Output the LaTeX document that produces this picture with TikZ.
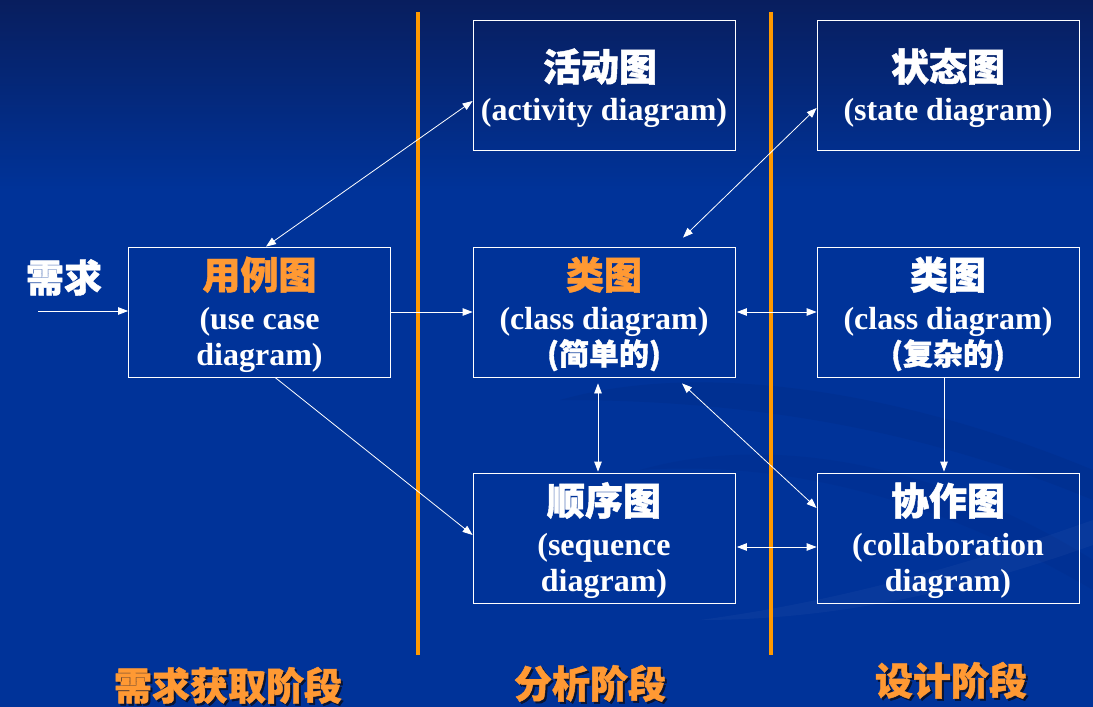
\documentclass[tikz,border=0pt]{standalone}
\usepackage{fontspec}
\setmainfont{Liberation Serif}
\newfontfamily\cjkfont{Noto Sans CJK SC}[BoldFeatures={FakeBold=1.2}]
\usetikzlibrary{arrows.meta,calc}

\definecolor{bgtop}{RGB}{8,30,94}
\definecolor{bgmain}{RGB}{0,51,153}
\definecolor{swirl}{RGB}{0,40,128}
\definecolor{phase}{RGB}{255,153,0}
\definecolor{hilite}{RGB}{255,153,51}
\definecolor{shadowc}{RGB}{10,20,50}

\tikzset{
  diagbox/.style={draw=white, line width=0.8pt, minimum width=262pt,
    minimum height=130pt, inner sep=0pt},
  zh/.style={font=\cjkfont\bfseries\fontsize{38}{38}\selectfont, text=white,
    anchor=base, inner sep=0pt},
  en/.style={font=\bfseries\fontsize{32}{32}\selectfont, text=white,
    anchor=base, inner sep=0pt},
  zhsmall/.style={font=\cjkfont\bfseries\fontsize{30}{30}\selectfont, text=white,
    anchor=base, inner sep=0pt},
  stage/.style={font=\cjkfont\bfseries\fontsize{38}{38}\selectfont, text=hilite,
    anchor=base, inner sep=0pt},
  stageshadow/.style={stage, text=shadowc},
  divider/.style={draw=phase, line width=4.5pt},
  link/.style={draw=white, line width=0.8pt, -{Triangle[length=10pt,width=7.5pt]}},
  biglink/.style={draw=white, line width=0.8pt,
    {Triangle[length=10pt,width=7.5pt]}-{Triangle[length=10pt,width=7.5pt]}},
}

\begin{document}
\begin{tikzpicture}[x=1pt, y=-1pt]
\useasboundingbox (0,0) rectangle (1093,707);

% background
\shade[top color=bgtop, bottom color=bgmain] (0,0) rectangle (1093,190);
\fill[bgmain] (0,189) rectangle (1093,707);
% faint swirls in the lower right
\fill[swirl, opacity=0.25] (560,400) .. controls (700,360) and (900,390) .. (1093,470)
  -- (1093,500) .. controls (900,420) and (720,400) .. (560,400) -- cycle;
\fill[swirl, opacity=0.2] (640,470) .. controls (780,430) and (950,470) .. (1093,560)
  -- (1093,590) .. controls (940,500) and (790,460) .. (640,470) -- cycle;
\fill[white, opacity=0.03] (700,620) .. controls (850,600) and (980,560) .. (1093,520)
  -- (1093,545) .. controls (980,585) and (850,620) .. (700,620) -- cycle;

% phase dividers
\coordinate (d1t) at (418,12);  \coordinate (d1b) at (418,655);
\coordinate (d2t) at (771,12);  \coordinate (d2b) at (771,655);
\draw[divider] (d1t) -- (d1b);
\draw[divider] (d2t) -- (d2b);

% boxes
\node[diagbox] (act) at (604,85) {};
\node[diagbox] (sta) at (948,85) {};
\node[diagbox] (use) at (259.5,312) {};
\node[diagbox] (cls) at (604,312) {};
\node[diagbox] (clx) at (948,312) {};
\node[diagbox] (seq) at (604,538) {};
\node[diagbox] (col) at (948,538) {};

% box texts
\node[zh] (actz) at (600,81) {活动图};
\node[en] (acte) at (604,120) {(activity diagram)};
\node[zh] (staz) at (948,81) {状态图};
\node[en] (stae) at (948,120) {(state diagram)};

\node[zh, text=hilite] (usez) at (259.5,289) {用例图};
\node[en] (usee1) at (259.5,329) {(use case};
\node[en] (usee2) at (259.5,365) {diagram)};

\node[zh, text=hilite] (clsz) at (604,289) {类图};
\node[en] (clse) at (604,329) {(class diagram)};
\node[zhsmall] (clsn) at (604,365) {(简单的)};

\node[zh] (clxz) at (948,289) {类图};
\node[en] (clxe) at (948,329) {(class diagram)};
\node[zhsmall] (clxn) at (948,365) {(复杂的)};

\node[zh] (seqz) at (604,515) {顺序图};
\node[en] (seqe1) at (604,555) {(sequence};
\node[en] (seqe2) at (604,591) {diagram)};

\node[zh] (colz) at (948,515) {协作图};
\node[en] (cole1) at (948,555) {(collaboration};
\node[en] (cole2) at (948,591) {diagram)};

% requirement input
\node[zh] (req) at (64,292) {需求};
\coordinate (reqin) at (38,311);
\draw[link] (reqin) -- ([yshift=1pt]use.west);

% connectors
\draw[biglink] ([xshift=6.5pt]use.north) -- ([yshift=-16pt]act.west);
\draw[link] (use.east) -- (cls.west);
\draw[link] ([xshift=15.5pt]use.south) -- ([yshift=3pt]seq.west);
\draw[biglink] ([xshift=79pt,yshift=9pt]cls.north) -- ([yshift=-23pt]sta.west);
\draw[biglink] ([xshift=1.5pt]cls.east) -- (clx.west);
\draw[biglink] ([xshift=-6pt,yshift=-6pt]cls.south) -- ([xshift=-6pt,yshift=1pt]seq.north);
\draw[biglink] ([xshift=78pt,yshift=-6pt]cls.south) -- ([yshift=30pt]col.west);
\draw[link] ([xshift=-4pt]clx.south) -- ([xshift=-4pt,yshift=1pt]col.north);
\draw[biglink] ([xshift=1.5pt,yshift=-9pt]seq.east) -- ([yshift=-9pt]col.west);

% phase labels
\node[stageshadow] at (230,702) {需求获取阶段};
\node[stage] (ph1) at (228,700) {需求获取阶段};
\node[stageshadow] at (592,700) {分析阶段};
\node[stage] (ph2) at (590,698) {分析阶段};
\node[stageshadow] at (953,697) {设计阶段};
\node[stage] (ph3) at (951,695) {设计阶段};
\end{tikzpicture}
\end{document}
